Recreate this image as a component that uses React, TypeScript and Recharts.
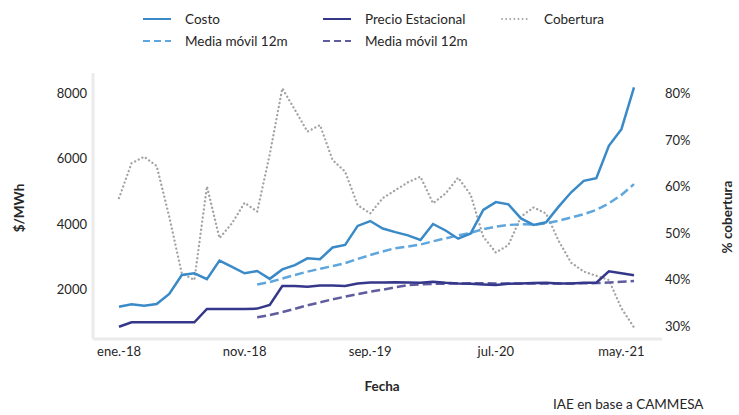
import React from "react";
import { LineChart, Line, XAxis, YAxis } from "recharts";

// ene.-18 .. jun.-21
const mesesAbrev = ["ene.", "feb.", "mar.", "abr.", "may.", "jun.", "jul.", "ago.", "sep.", "oct.", "nov.", "dic."];
const meses: string[] = [];
for (let a = 18; a <= 21; a++) {
  for (let m = 0; m < 12; m++) {
    if (a === 21 && m > 5) break;
    meses.push(`${mesesAbrev[m]}-${a}`);
  }
}

// $/MWh
const costo = [
  1470, 1540, 1500, 1550, 1860, 2440, 2490, 2310, 2880, 2690, 2490, 2560, 2320, 2610,
  2740, 2950, 2920, 3280, 3360, 3940, 4090, 3860, 3750, 3650, 3510, 4000, 3800, 3550,
  3710, 4430, 4670, 4600, 4170, 3970, 4050, 4530, 4970, 5320, 5400, 6390, 6900, 8180,
];
const costoMedia = [
  null, null, null, null, null, null, null, null, null, null, null,
  2150, 2220, 2330, 2440, 2540, 2630, 2710, 2800, 2930, 3050, 3160, 3260, 3310, 3370,
  3470, 3560, 3650, 3730, 3840, 3920, 3970, 3990, 3980, 4020, 4100, 4200, 4300, 4430,
  4630, 4890, 5220,
];
const precio = [
  855, 990, 990, 990, 990, 990, 990, 1400, 1400, 1400, 1400, 1410, 1520, 2100,
  2100, 2080, 2120, 2120, 2100, 2180, 2210, 2210, 2220, 2210, 2200, 2230, 2200, 2180,
  2170, 2150, 2130, 2170, 2180, 2190, 2200, 2180, 2180, 2200, 2200, 2550, 2490, 2430,
];
const precioMedia = [
  null, null, null, null, null, null, null, null, null, null, null,
  1145, 1210, 1305, 1405, 1510, 1600, 1695, 1775, 1855, 1925, 1990, 2060, 2130, 2150,
  2165, 2175, 2180, 2185, 2185, 2180, 2180, 2180, 2180, 2180, 2180, 2180, 2185, 2190,
  2210, 2232, 2254,
];
// % cobertura
const cobertura = [
  57.5, 65.0, 66.4, 64.4, 53.5, 41.3, 39.9, 60.0, 48.9, 52.1, 56.5, 54.6, 66.9, 81.1,
  76.5, 71.8, 73.2, 65.7, 63.2, 56.0, 54.2, 57.5, 59.2, 60.9, 62.1, 56.4, 58.5, 61.9,
  58.2, 49.2, 45.8, 47.4, 53.5, 55.5, 54.2, 48.3, 43.6, 41.7, 40.8, 39.9, 33.8, 29.7,
];

const ticksPesos = [2000, 4000, 6000, 8000];
const ticksPct = [30, 40, 50, 60, 70, 80];

const data = meses.map((mes, i) => ({
  mes,
  costo: costo[i],
  costoMedia: costoMedia[i],
  precio: precio[i],
  precioMedia: precioMedia[i],
  cobertura: cobertura[i],
}));

const C_COSTO = "#3a8ac8";
const C_COSTO_MA = "#5ea6dc";
const C_PRECIO = "#35378a";
const C_PRECIO_MA = "#5f5c9f";
const C_COB = "#a3a3a3";
const TXT = "#262626";
const EJE = "#ebebeb";
const FONT = "Lato, 'Open Sans', sans-serif";
const PUNTOS = "0.1 4";

const LegendItem = ({ x, y, color, dash, label, width = 2, cap = "butt" }: any) => (
  <div style={{ position: "absolute", left: x, top: y - 9, height: 18, display: "flex", alignItems: "center" }}>
    <svg width={30} height={6} style={{ marginRight: 13 }}>
      <line x1={1} y1={3} x2={29} y2={3} stroke={color} strokeWidth={width} strokeDasharray={dash} strokeLinecap={cap} />
    </svg>
    <span style={{ fontSize: 13.5, color: TXT }}>{label}</span>
  </div>
);

const tickStyle = { fontSize: 13, fill: TXT, fontFamily: FONT };

export default function App() {
  return (
    <div style={{ position: "absolute", left: 0, top: 0, width: 739, height: 415, background: "#fff", fontFamily: FONT }}>
      <LegendItem x={142} y={19} color={C_COSTO} label="Costo" />
      <LegendItem x={322} y={19} color={C_PRECIO} label="Precio Estacional" />
      <LegendItem x={501} y={19} color={C_COB} dash={PUNTOS} cap="round" width={1.8} label="Cobertura" />
      <LegendItem x={142} y={41} color={C_COSTO_MA} dash="7 4" label="Media móvil 12m" />
      <LegendItem x={322} y={41} color={C_PRECIO_MA} dash="7 4" label="Media móvil 12m" />

      <LineChart width={739} height={415} data={data} margin={{ top: 73, right: 17, bottom: 46, left: 43 }}>
        <XAxis
          dataKey="mes"
          height={30}
          interval={9}
          padding={{ left: 26, right: 28 }}
          tickLine={false}
          axisLine={{ stroke: EJE, strokeWidth: 3 }}
          tick={tickStyle}
        />
        <YAxis
          yAxisId="pesos"
          width={50}
          domain={[480, 8620]}
          ticks={ticksPesos}
          allowDataOverflow
          tickLine={false}
          tickSize={6}
          tickMargin={0}
          axisLine={{ stroke: EJE, strokeWidth: 3 }}
          tick={tickStyle}
        />
        <YAxis
          yAxisId="pct"
          orientation="right"
          width={60}
          domain={[27.2, 84.4]}
          ticks={ticksPct}
          allowDataOverflow
          tickLine={false}
          axisLine={false}
          tickSize={3}
          tickMargin={0}
          tickFormatter={(v: number) => `${v}%`}
          tick={tickStyle}
        />
        <Line yAxisId="pct" dataKey="cobertura" stroke={C_COB} strokeWidth={2.3} strokeDasharray={PUNTOS} strokeLinecap="round" dot={false} isAnimationActive={false} />
        <Line yAxisId="pesos" dataKey="precioMedia" stroke={C_PRECIO_MA} strokeWidth={2.5} strokeDasharray="9 4" dot={false} isAnimationActive={false} />
        <Line yAxisId="pesos" dataKey="costoMedia" stroke={C_COSTO_MA} strokeWidth={2.5} strokeDasharray="9 4" dot={false} isAnimationActive={false} />
        <Line yAxisId="pesos" dataKey="precio" stroke={C_PRECIO} strokeWidth={2.5} dot={false} isAnimationActive={false} />
        <Line yAxisId="pesos" dataKey="costo" stroke={C_COSTO} strokeWidth={2.5} dot={false} isAnimationActive={false} />
      </LineChart>

      <div style={{ position: "absolute", left: 19, top: 208, transform: "translate(-50%, -50%) rotate(-90deg)", fontSize: 13.5, fontWeight: 700, color: TXT, whiteSpace: "nowrap" }}>
        $/MWh
      </div>
      <div style={{ position: "absolute", left: 727, top: 217, transform: "translate(-50%, -50%) rotate(-90deg)", fontSize: 13.5, fontWeight: 700, color: TXT, whiteSpace: "nowrap" }}>
        % cobertura
      </div>
      <div style={{ position: "absolute", left: 382, top: 386, transform: "translate(-50%, -50%)", fontSize: 13.5, fontWeight: 700, color: TXT }}>
        Fecha
      </div>
      <div style={{ position: "absolute", left: 553, top: 404, transform: "translateY(-50%)", fontSize: 13.5, color: TXT, whiteSpace: "nowrap" }}>
        IAE en base a CAMMESA
      </div>
    </div>
  );
}
